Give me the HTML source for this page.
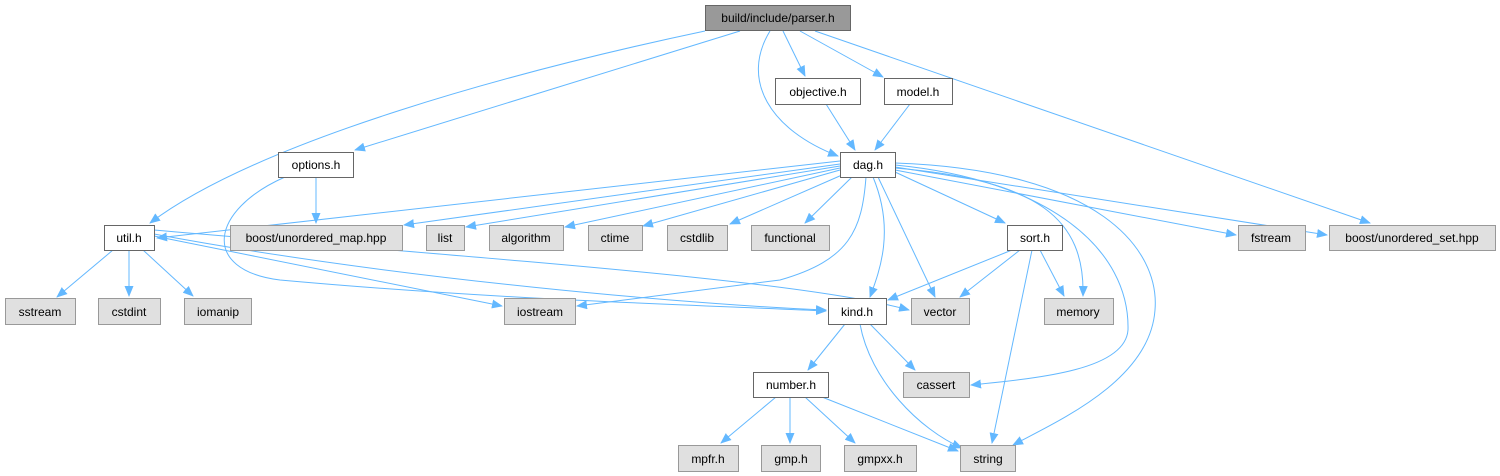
<!DOCTYPE html>
<html><head><meta charset="utf-8"><style>
html,body{margin:0;padding:0;background:#fff;}
svg{display:block;}
text{font-family:"Liberation Sans",Arial,sans-serif;font-size:12px;fill:#000;}
</style></head><body>
<svg width="1500" height="476" viewBox="0 0 1500 476" xmlns="http://www.w3.org/2000/svg">
<defs>
<marker id="a" markerWidth="11" markerHeight="9" refX="10" refY="4.5" orient="auto" markerUnits="userSpaceOnUse">
<path d="M0,0 L11,4.5 L0,9 z" fill="#63b8ff"/></marker>
</defs>
<g fill="none" stroke="#63b8ff" stroke-width="1" marker-end="url(#a)">
<path d="M705,31 C520,70 260,140 150,223"/>
<path d="M740,31 L355,150"/>
<path d="M770,31 C740,80 770,130 838,156"/>
<path d="M783,31 L805,76"/>
<path d="M800,31 L883,77"/>
<path d="M815,31 L1370,223"/>
<path d="M826,104 L855,150"/>
<path d="M910,104 L875,150"/>
<path d="M316,177 L316,223"/>
<path d="M285,177 C210,210 200,270 280,280 C500,300 700,305 826,311"/>
<path d="M154,230 C500,260 800,280 909,310"/>
<path d="M154,234 C400,280 700,305 826,310"/>
<path d="M154,236 L502,306"/>
<path d="M113,250 L57,297"/>
<path d="M129,250 L129,296"/>
<path d="M143,250 L193,296"/>
<path d="M840,161 L157,238"/>
<path d="M840,164 L404,225"/>
<path d="M840,166 L466,227"/>
<path d="M840,168 L565,227"/>
<path d="M840,170 L643,226"/>
<path d="M842,175 L730,224"/>
<path d="M852,177 L805,223"/>
<path d="M866,177 C862,230 850,260 780,280 L577,306"/>
<path d="M873,177 C895,230 880,270 870,297"/>
<path d="M878,177 L935,297"/>
<path d="M895,172 L1005,223"/>
<path d="M895,168 C1040,180 1085,220 1083,296"/>
<path d="M895,165 C1050,180 1130,250 1128,330 C1125,370 1040,378 971,385"/>
<path d="M895,163 C1100,170 1160,250 1155,310 C1150,380 1060,420 1013,445"/>
<path d="M895,170 L1236,235"/>
<path d="M895,167 L1327,235"/>
<path d="M1012,250 L888,300"/>
<path d="M1020,250 L960,297"/>
<path d="M1040,250 L1064,296"/>
<path d="M1032,250 L992,443"/>
<path d="M845,324 L808,370"/>
<path d="M870,324 L915,370"/>
<path d="M860,324 C870,380 920,430 962,448"/>
<path d="M776,397 L721,443"/>
<path d="M790,397 L790,443"/>
<path d="M805,397 L855,443"/>
<path d="M822,397 L958,451"/>
</g>
<g stroke-width="1">
<rect x="705.5" y="5.5" width="145" height="25" fill="#999" stroke="#666"/>
<g fill="#fff" stroke="#666">
<rect x="775.5" y="78.5" width="85" height="26"/>
<rect x="884.5" y="78.5" width="68" height="26"/>
<rect x="840.5" y="152.5" width="55" height="25"/>
<rect x="278.5" y="152.5" width="75" height="25"/>
<rect x="104.5" y="225.5" width="50" height="25"/>
<rect x="1007.5" y="225.5" width="55" height="25"/>
<rect x="828.5" y="298.5" width="58" height="26"/>
<rect x="753.5" y="372.5" width="75" height="25"/>
</g>
<g fill="#e0e0e0" stroke="#999">
<rect x="230.5" y="225.5" width="172" height="25"/>
<rect x="426.5" y="225.5" width="38" height="25"/>
<rect x="489.5" y="225.5" width="74" height="25"/>
<rect x="588.5" y="225.5" width="54" height="25"/>
<rect x="667.5" y="225.5" width="60" height="25"/>
<rect x="751.5" y="225.5" width="78" height="25"/>
<rect x="1238.5" y="225.5" width="67" height="25"/>
<rect x="1329.5" y="225.5" width="166" height="25"/>
<rect x="5.5" y="298.5" width="70" height="26"/>
<rect x="98.5" y="298.5" width="62" height="26"/>
<rect x="184.5" y="298.5" width="67" height="26"/>
<rect x="504.5" y="298.5" width="71" height="26"/>
<rect x="911.5" y="298.5" width="58" height="26"/>
<rect x="1044.5" y="298.5" width="69" height="26"/>
<rect x="903.5" y="372.5" width="66" height="25"/>
<rect x="678.5" y="445.5" width="60" height="26"/>
<rect x="761.5" y="445.5" width="59" height="26"/>
<rect x="844.5" y="445.5" width="72" height="26"/>
<rect x="960.5" y="445.5" width="55" height="26"/>
</g>
</g>
<g text-anchor="middle">
<text x="778" y="22">build/include/parser.h</text>
<text x="818" y="96">objective.h</text>
<text x="918" y="96">model.h</text>
<text x="868" y="169">dag.h</text>
<text x="316" y="169">options.h</text>
<text x="129" y="242">util.h</text>
<text x="1035" y="242">sort.h</text>
<text x="857" y="316">kind.h</text>
<text x="791" y="389">number.h</text>
<text x="316" y="242">boost/unordered_map.hpp</text>
<text x="445" y="242">list</text>
<text x="526" y="242">algorithm</text>
<text x="615" y="242">ctime</text>
<text x="697" y="242">cstdlib</text>
<text x="790" y="242">functional</text>
<text x="1271" y="242">fstream</text>
<text x="1412" y="242">boost/unordered_set.hpp</text>
<text x="40" y="316">sstream</text>
<text x="129" y="316">cstdint</text>
<text x="218" y="316">iomanip</text>
<text x="540" y="316">iostream</text>
<text x="940" y="316">vector</text>
<text x="1078" y="316">memory</text>
<text x="936" y="389">cassert</text>
<text x="708" y="463">mpfr.h</text>
<text x="791" y="463">gmp.h</text>
<text x="880" y="463">gmpxx.h</text>
<text x="988" y="463">string</text>
</g>
</svg>
</body></html>
